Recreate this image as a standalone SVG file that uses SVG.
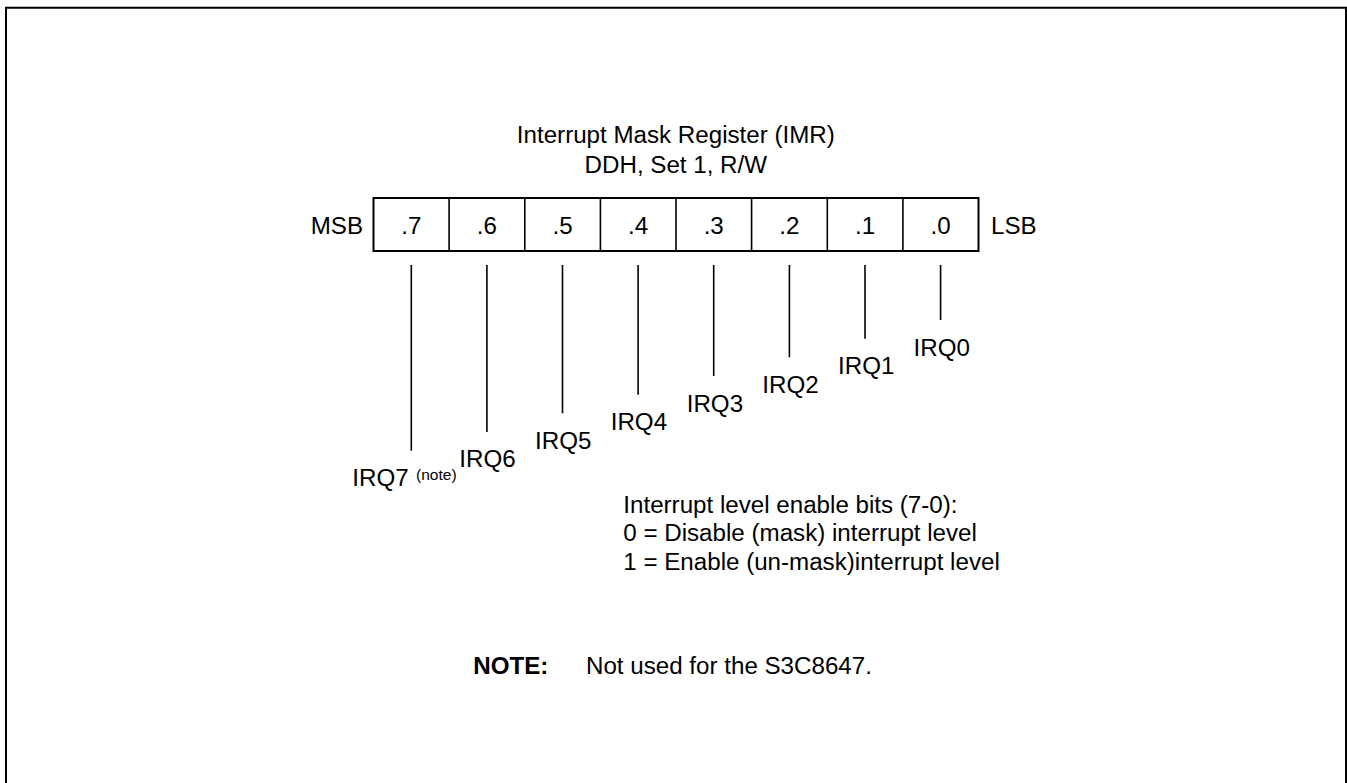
<svg xmlns="http://www.w3.org/2000/svg" width="1347" height="783" viewBox="0 0 1347 783">
<style>
text{font-family:"Liberation Sans",Arial,sans-serif;font-size:23px;fill:#000}
.c{text-anchor:middle}
.b{font-weight:bold}
.s{font-size:14.8px}
.ln{stroke:#000;stroke-width:1.6;fill:none}
.bx{stroke:#000;stroke-width:2;fill:#fff}
</style>
<rect width="1347" height="783" fill="#fff"/>
<path d="M6,790 V7.7 H1346 V790" fill="none" stroke="#000" stroke-width="2"/>
<g id="title">
<text class="c" transform="translate(675.8,142.7) scale(1.05,1)">Interrupt Mask Register (IMR)</text>
<text class="c" transform="translate(675.8,172.7) scale(1.05,1)">DDH, Set 1, R/W</text>
</g>
<g id="register">
<rect class="bx" x="373.5" y="198" width="605" height="53"/>
<path class="ln" stroke-width="2" d="M449.1,198V251M524.8,198V251M600.4,198V251M676,198V251M751.6,198V251M827.3,198V251M902.9,198V251"/>
<text transform="translate(310.7,234) scale(1.05,1)">MSB</text>
<text transform="translate(991,234) scale(1.05,1)">LSB</text>
<text class="c" transform="translate(411.3,234) scale(1.05,1)">.7</text>
<text class="c" transform="translate(486.9,234) scale(1.05,1)">.6</text>
<text class="c" transform="translate(562.5,234) scale(1.05,1)">.5</text>
<text class="c" transform="translate(638.1,234) scale(1.05,1)">.4</text>
<text class="c" transform="translate(713.7,234) scale(1.05,1)">.3</text>
<text class="c" transform="translate(789.4,234) scale(1.05,1)">.2</text>
<text class="c" transform="translate(865,234) scale(1.05,1)">.1</text>
<text class="c" transform="translate(940.6,234) scale(1.05,1)">.0</text>
</g>
<g id="connectors">
<path class="ln" d="M411.3,265V450.7M486.9,265V432M562.5,265V413.3M638.1,265V394.7M713.7,265V376M789.4,265V357.3M865,265V338.7M940.6,265V320"/>
</g>
<g id="irq7"><text transform="translate(352.3,485.7) scale(1.05,1)">IRQ7</text><text class="s" transform="translate(416,480) scale(1.05,1)">(note)</text></g>
<g id="irq6"><text transform="translate(459.3,467.3) scale(1.05,1)">IRQ6</text></g>
<g id="irq5"><text transform="translate(535,449) scale(1.05,1)">IRQ5</text></g>
<g id="irq4"><text transform="translate(610.7,430.3) scale(1.05,1)">IRQ4</text></g>
<g id="irq3"><text transform="translate(686.7,411.6) scale(1.05,1)">IRQ3</text></g>
<g id="irq2"><text transform="translate(762.3,392.9) scale(1.05,1)">IRQ2</text></g>
<g id="irq1"><text transform="translate(838,374.2) scale(1.05,1)">IRQ1</text></g>
<g id="irq0"><text transform="translate(913.6,355.5) scale(1.05,1)">IRQ0</text></g>
<g id="legend">
<text transform="translate(623.3,512.7) scale(1.05,1)">Interrupt level enable bits (7-0):</text>
<text transform="translate(623.3,541.4) scale(1.05,1)">0 = Disable (mask) interrupt level</text>
<text transform="translate(623.3,570) scale(1.05,1)">1 = Enable (un-mask)interrupt level</text>
</g>
<g id="note">
<text class="b" transform="translate(473.3,674) scale(1.05,1)">NOTE:</text>
<text transform="translate(586,674) scale(1.05,1)">Not used for the S3C8647.</text>
</g>
</svg>
